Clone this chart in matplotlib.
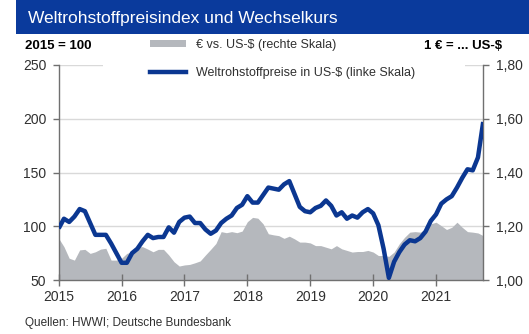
import numpy as np
import matplotlib
matplotlib.use("Agg")
import matplotlib.pyplot as plt
from matplotlib.patches import Rectangle, Patch
from matplotlib.lines import Line2D
from matplotlib.ticker import FuncFormatter

plt.rcParams['font.family'] = ['Liberation Sans', 'DejaVu Sans']

# Monthly data, January 2015 to October 2021
start_year = 2015
commodity_index = [
    98, 107, 104, 109, 116, 114, 103, 92, 92, 92, 84, 75,          # 2015
    66, 66, 75, 79, 86, 92, 89, 90, 90, 99, 94, 104,               # 2016
    108, 109, 103, 103, 97, 93, 96, 103, 107, 110, 117, 120,       # 2017
    128, 122, 122, 129, 136, 135, 134, 139, 142, 130, 118, 114,    # 2018
    113, 117, 119, 124, 119, 110, 113, 107, 110, 108, 113, 116,    # 2019
    112, 101, 79, 52, 67, 76, 83, 87, 86, 89, 95, 105,             # 2020
    111, 121, 125, 128, 136, 145, 153, 152, 164, 197,              # 2021
]
eur_usd = [
    1.155, 1.124, 1.081, 1.074, 1.112, 1.114, 1.099, 1.105, 1.115, 1.118, 1.074, 1.074,
    1.081, 1.099, 1.105, 1.124, 1.124, 1.115, 1.105, 1.114, 1.114, 1.093, 1.068, 1.052,
    1.056, 1.058, 1.064, 1.071, 1.093, 1.114, 1.136, 1.180, 1.176, 1.180, 1.176, 1.182,
    1.217, 1.233, 1.230, 1.209, 1.172, 1.168, 1.165, 1.155, 1.163, 1.153, 1.141, 1.141,
    1.138, 1.128, 1.128, 1.122, 1.116, 1.128, 1.116, 1.110, 1.104, 1.106, 1.106, 1.110,
    1.104, 1.091, 1.091, 1.088, 1.104, 1.135, 1.159, 1.178, 1.180, 1.178, 1.190, 1.209,
    1.215, 1.202, 1.188, 1.196, 1.215, 1.196, 1.180, 1.178, 1.175, 1.165,
]
year_ticks = [2015, 2016, 2017, 2018, 2019, 2020, 2021]
left_ticks = [50, 100, 150, 200, 250]
right_ticks = [1.00, 1.20, 1.40, 1.60, 1.80]

title = "Weltrohstoffpreisindex und Wechselkurs"
left_unit = "2015 = 100"
right_unit = "1 € = ... US-$"
label_fx = "€ vs. US-$ (rechte Skala)"
label_idx = "Weltrohstoffpreise in US-$ (linke Skala)"
source = "Quellen: HWWI; Deutsche Bundesbank"

BLUE = "#0b3791"
GRAY = "#b5b8bd"
BAR = "#0a3a9c"
TXT = "#303030"
AXC = "#707070"

months = start_year + np.arange(len(commodity_index)) / 12.0

W, H = 529, 334
fig = plt.figure(figsize=(W / 100, H / 100), dpi=100)

# Left scale (commodity index) on top, right scale (exchange rate) behind it
ax = fig.add_axes([58.7 / W, 54 / H, 424.5 / W, 215 / H])
ax2 = ax.twinx()
ax.set_zorder(2)
ax2.set_zorder(1)
ax.patch.set_visible(False)

ax2.fill_between(months, right_ticks[0], eur_usd, color=GRAY, linewidth=0, zorder=2)
ax2.set_ylim(right_ticks[0], right_ticks[-1])
ax2.set_yticks(right_ticks)
ax2.yaxis.set_major_formatter(FuncFormatter(lambda v, p: f"{v:.2f}".replace(".", ",")))
ax2.set_axisbelow(True)
for v in right_ticks[1:]:
    ax2.axhline(v, color="#d9d9d9", linewidth=1.0, zorder=0)

ax.plot(months, commodity_index, color=BLUE, linewidth=3.2, solid_joinstyle="round",
        solid_capstyle="butt", zorder=3)
ax.set_ylim(left_ticks[0], left_ticks[-1])
ax.set_yticks(left_ticks)
ax.set_xlim(months[0], months[-1])
ax.set_xticks(year_ticks)
ax.set_xticklabels([str(y) for y in year_ticks])

for a in (ax, ax2):
    for s in a.spines.values():
        s.set_visible(False)
ax.spines["left"].set_visible(True)
ax.spines["bottom"].set_visible(True)
ax2.spines["right"].set_visible(True)
for s in (ax.spines["left"], ax.spines["bottom"], ax2.spines["right"]):
    s.set_color(AXC)
    s.set_linewidth(1.0)

ax.tick_params(axis="y", direction="out", length=4, width=1, color=AXC,
               labelsize=10, labelcolor=TXT, pad=5)
ax.tick_params(axis="x", direction="inout", length=8, width=1, color=AXC,
               labelsize=10, labelcolor=TXT, pad=3)
ax2.tick_params(axis="y", direction="out", length=4, width=1, color=AXC,
                labelsize=10, labelcolor=TXT, pad=5)

# White band behind the legend, hiding the top grid line
ax.add_patch(Rectangle((103 / W, 1 - 88 / H), (465 - 103) / W, (88 - 36) / H,
                       transform=fig.transFigure, facecolor="white", edgecolor="none",
                       zorder=5, clip_on=False))

handles = [Patch(facecolor=GRAY, edgecolor="none"), Line2D([], [], color=BLUE, linewidth=3.2)]
leg = fig.legend(handles, [label_fx, label_idx], loc="upper left",
                 bbox_to_anchor=(150 / W, 1 - 39 / H), frameon=False, fontsize=9,
                 handlelength=2.9, handleheight=0.5, handletextpad=0.8,
                 labelspacing=1.25, borderpad=0, borderaxespad=0)
for t in leg.get_texts():
    t.set_color(TXT)

# Title bar
fig.patches.append(Rectangle((16 / W, 1 - 34 / H), 1 - 16 / W, 34 / H,
                             transform=fig.transFigure, facecolor=BAR, edgecolor="none"))
fig.text(28 / W, 1 - 18 / H, title, color="white", fontsize=12.5, va="center", ha="left")

fig.text(25 / W, 1 - 46 / H, left_unit, color="black", fontsize=9.5, fontweight="bold",
         va="center", ha="left")
fig.text(502 / W, 1 - 46 / H, right_unit, color="black", fontsize=9.5, fontweight="bold",
         va="center", ha="right")
fig.text(25 / W, 1 - 323 / H, source, color=TXT, fontsize=8.5, va="center", ha="left")

fig.savefig("out.png", dpi=100)
